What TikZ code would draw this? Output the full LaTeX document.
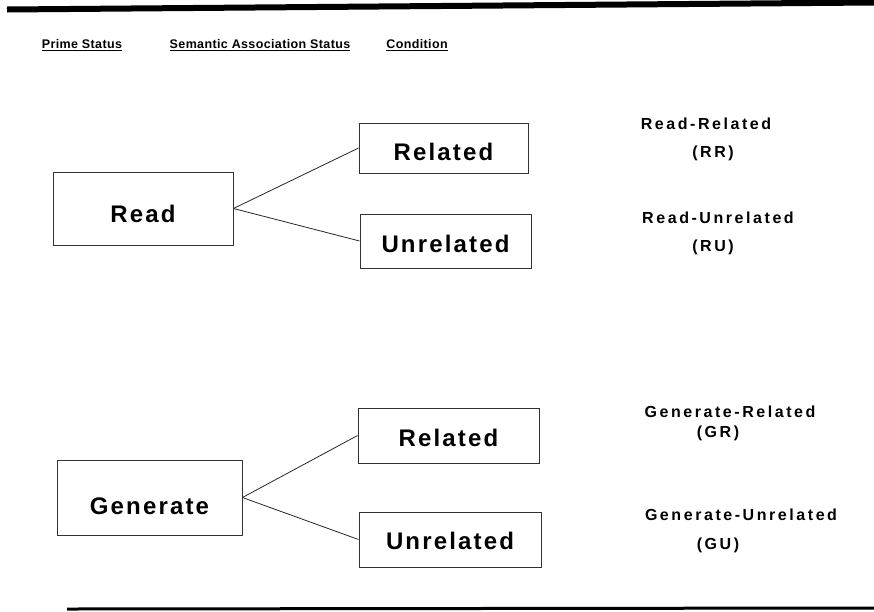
\documentclass[tikz,border=0pt]{standalone}
\usepackage{fontspec}
\setmainfont{Liberation Sans}
\newfontfamily\bigfont[LetterSpace=9]{Liberation Sans}
\newfontfamily\condfont[LetterSpace=16]{Liberation Sans}
\newfontfamily\headfont[LetterSpace=3]{Liberation Sans}
\begin{document}
\begin{tikzpicture}[x=1pt,y=-1pt,
  box/.style={draw=black!80,line width=0.9pt,rectangle,inner sep=0pt,text depth=0pt,
    font=\bigfont\fontsize{24}{28}\selectfont\bfseries},
  tdown/.style={text height={17.2pt+2*#1}},
  head/.style={inner sep=0pt,font=\headfont\fontsize{12.5}{15}\selectfont\bfseries},
  cond/.style={inner sep=0pt,font=\condfont\fontsize{16}{19}\selectfont\bfseries},
  link/.style={draw=black!85,line width=0.8pt}]
\useasboundingbox (0,0) rectangle (874,611);
% rules
\coordinate (tl) at (7,9.5);
\coordinate (tr) at (874,2.5);
\draw[line width=6pt] (tl) -- (tr);
\coordinate (bl) at (67,609);
\coordinate (br) at (874,608);
\draw[line width=3pt] (bl) -- (br);
% headers
\node[head] (h1) at (82,45) {\underline{Prime Status}};
\node[head] (h2) at (260,45) {\underline{Semantic Association Status}};
\node[head] (h3) at (417,45) {\underline{Condition}};
% boxes
\node[box,tdown=5.5pt,minimum width=180pt,minimum height=73pt] (read) at (143,208.5) {Read};
\node[box,tdown=4pt,minimum width=169pt,minimum height=50pt] (rel1) at (443.5,148) {Related};
\node[box,tdown=3pt,minimum width=171pt,minimum height=54pt] (unrel1) at (445.5,241) {Unrelated};
\node[box,tdown=8pt,minimum width=185pt,minimum height=75pt] (gen) at (149.5,497.5) {Generate};
\node[box,tdown=2pt,minimum width=181pt,minimum height=55pt] (rel2) at (448.5,435.5) {Related};
\node[box,tdown=1pt,minimum width=182pt,minimum height=55pt] (unrel2) at (450,539.5) {Unrelated};
% links
\draw[link] (read.east) -- (rel1.west);
\draw[link] (read.east) -- (unrel1.west);
\draw[link] (gen.east) -- (rel2.west);
\draw[link] (gen.east) -- (unrel2.west);
% conditions
\node[cond] (c1) at (706,124) {Read-Related};
\node[cond] (c1b) at (713,153) {(RR)};
\node[cond] (c2) at (718,218) {Read-Unrelated};
\node[cond] (c2b) at (713,247) {(RU)};
\node[cond] (c3) at (730,412) {Generate-Related};
\node[cond] (c3b) at (718,433) {(GR)};
\node[cond] (c4) at (741,515) {Generate-Unrelated};
\node[cond] (c4b) at (718,545) {(GU)};
\end{tikzpicture}
\end{document}
